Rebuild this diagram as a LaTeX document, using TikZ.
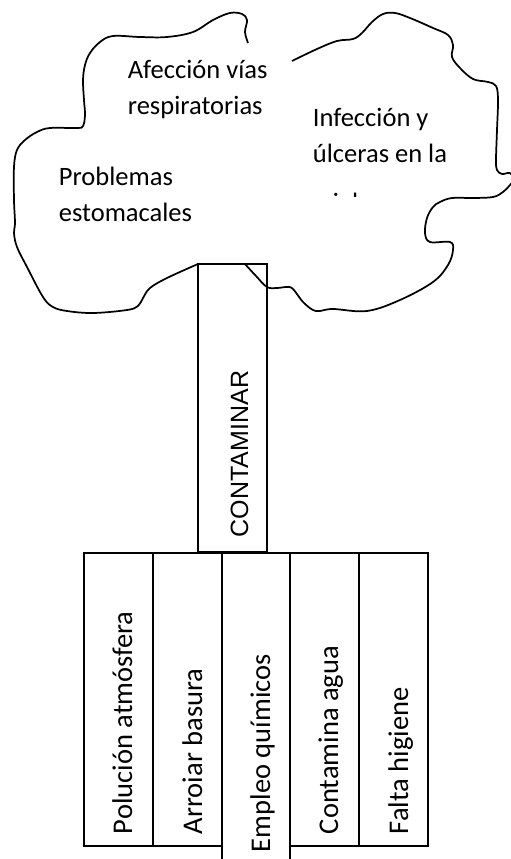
\documentclass[tikz,border=0pt]{standalone}
\usepackage{fontspec}
\setmainfont{Carlito}
\newfontfamily\arialfont{Liberation Sans}

\begin{document}
\begin{tikzpicture}[x=0.75pt,y=0.75pt,yscale=-1,xscale=1,line width=1.3pt,
    cloudtext/.style={anchor=base west,inner sep=0pt,align=left,font=\fontsize{19.9}{27}\selectfont},
    causetext/.style={anchor=base west,inner sep=0pt,rotate=90,font=\fontsize{21.4}{26}\selectfont}]
        \useasboundingbox (0,0) rectangle (510,859);

        %Shape: Cloud, left part
        \draw [line join=round] plot [smooth, tension=0.6] coordinates {(248,43) (245,32) (247,20) (242,14) (230,13) (213,20) (193,32) (167,37) (140,37) (113,36) (100,42) (90,53) (85,65) (83,80) (84,100) (85,115) (83,126) (77,128) (50,128) (37,132) (25,140) (17,150) (14,167) (14,200) (15,223) (14,233) (17,247) (27,267) (43,297) (53,307) (67,311) (93,313) (127,310) (138,306) (143,298) (150,288) (167,278) (198,264)};
        %Shape: Cloud, right part
        \draw [line join=round] plot [smooth, tension=0.6] coordinates {(245,264) (256,276) (267,287) (277,288) (287,287) (293,289) (303,302) (313,310) (320,311) (333,309) (367,311) (400,300) (433,282) (448,265) (453,250) (450,242) (430,242) (425,233) (427,218) (433,207) (440,202) (452,198) (473,198) (493,197) (503,192) (510,185) (514,179) (510,173) (502,174) (497,170) (496,160) (497,130) (498,100) (496,86) (488,82) (473,79) (460,68) (452,57) (453,45) (448,35) (433,28) (410,18) (395,13) (383,14) (372,22) (362,33) (353,39) (337,41) (317,49) (292,61)};

        %Shape: Rectangle (trunk)
        \draw (198,264) rectangle (267,552);
        %Shape: Rectangle
        \draw (84,553) rectangle (153,846);
        %Shape: Rectangle
        \draw (153,553) rectangle (222,846);
        %Shape: Rectangle
        \draw (222,553) rectangle (290,875);
        %Shape: Rectangle
        \draw (290,553) rectangle (359,846);
        %Shape: Rectangle
        \draw (359,553) rectangle (428,846);

        % Text Node
        \node [cloudtext] (afeccion) at (127,115) {Afección vías\\respiratorias};
        % Text Node
        \node [cloudtext] (infeccion) at (312,163) {Infección y\\úlceras en la};
        % Text Node
        \begin{scope}
            \clip (300,150) rectangle (420,197);
            \node [cloudtext] (piel) at (318,212) {piel};
        \end{scope}
        % Text Node
        \node [cloudtext] (problemas) at (58,222) {Problemas\\estomacales};

        % Text Node
        \node [causetext,font=\arialfont\fontsize{18.75}{22}\selectfont] (contaminar) at (248,538) {CONTAMINAR};
        % Text Node
        \node [causetext] (polucion) at (132,835) {Polución atmósfera};
        % Text Node
        \node [causetext] (arroiar) at (202,835) {Arroiar basura};
        % Text Node
        \node [causetext] (empleo) at (270,853) {Empleo químicos};
        % Text Node
        \node [causetext] (contamina) at (338,835) {Contamina agua};
        % Text Node
        \node [causetext] (falta) at (408,835) {Falta higiene};

\end{tikzpicture}
\end{document}
